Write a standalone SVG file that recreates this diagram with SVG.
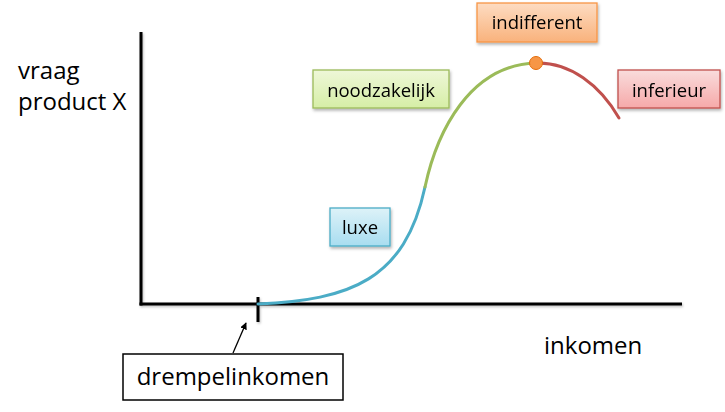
<svg xmlns="http://www.w3.org/2000/svg" width="725" height="412" viewBox="0 0 725 412">
  <style>
    .lbl { font-family: "Open Sans", "Liberation Sans", sans-serif; fill: #000; }
    .big { font-size: 24px; }
    .box { font-size: 18.5px; text-anchor: middle; }
    .axis { stroke: #000; stroke-width: 3; fill: none; stroke-linecap: butt; }
    .curve { fill: none; stroke-width: 3; stroke-linecap: round; }
  </style>
  <defs>
    <filter id="sh" x="-20%" y="-20%" width="140%" height="150%">
      <feDropShadow dx="1" dy="2" stdDeviation="1.5" flood-color="#000" flood-opacity="0.3"/>
    </filter>
    <filter id="ash" x="-5%" y="-5%" width="110%" height="110%">
      <feDropShadow dx="1" dy="1.5" stdDeviation="1" flood-color="#000" flood-opacity="0.25"/>
    </filter>
    <linearGradient id="gOr" x1="0" y1="0" x2="0" y2="1">
      <stop offset="0" stop-color="#FDDCC2"/>
      <stop offset="1" stop-color="#F9B27C"/>
    </linearGradient>
    <linearGradient id="gGr" x1="0" y1="0" x2="0" y2="1">
      <stop offset="0" stop-color="#EEF7D8"/>
      <stop offset="1" stop-color="#D6EEA6"/>
    </linearGradient>
    <linearGradient id="gRd" x1="0" y1="0" x2="0" y2="1">
      <stop offset="0" stop-color="#F9DCDC"/>
      <stop offset="1" stop-color="#F6A9A9"/>
    </linearGradient>
    <linearGradient id="gBl" x1="0" y1="0" x2="0" y2="1">
      <stop offset="0" stop-color="#DDF2F8"/>
      <stop offset="1" stop-color="#A8DDF0"/>
    </linearGradient>
    <marker id="arr" viewBox="0 0 10 10" refX="9" refY="5" markerWidth="7" markerHeight="7" orient="auto" markerUnits="userSpaceOnUse">
      <path d="M0,0 L10,5 L0,10 z" fill="#000"/>
    </marker>
  </defs>

  <g id="axes" filter="url(#ash)">
    <line class="axis" x1="141" y1="32" x2="141" y2="305.5"/>
    <line class="axis" x1="139.5" y1="304" x2="682" y2="304"/>
    <line class="axis" x1="258" y1="297" x2="258" y2="322"/>
  </g>

  <g id="connectors">
    <path class="curve" stroke="#4BACC6" d="M258,304 C350,300 405,280 425,187"/>
    <path class="curve" stroke="#9BBB59" d="M425,187 C437,131 470,65 536,63"/>
    <path class="curve" stroke="#C0504D" d="M536,63 C570,62 600,85 619,118"/>
    <line x1="233" y1="353" x2="246" y2="323" stroke="#000" stroke-width="1.3" marker-end="url(#arr)"/>
  </g>

  <g id="peak">
    <circle cx="536" cy="63" r="6.5" fill="#F79646" stroke="#E46C0A" stroke-width="1"/>
  </g>

  <g id="yLabel">
    <text class="lbl big" x="18" y="79">vraag</text>
    <text class="lbl big" x="18" y="110">product X</text>
  </g>

  <g id="xLabel">
    <text class="lbl big" x="544" y="354">inkomen</text>
  </g>

  <g id="indifferent" filter="url(#sh)">
    <rect x="477" y="3" width="120" height="39" fill="url(#gOr)" stroke="#F79646" stroke-width="1.3"/>
    <text class="lbl box" x="537" y="29">indifferent</text>
  </g>

  <g id="noodzakelijk" filter="url(#sh)">
    <rect x="313" y="70" width="136" height="38" fill="url(#gGr)" stroke="#9BBB59" stroke-width="1.3"/>
    <text class="lbl box" x="381" y="97">noodzakelijk</text>
  </g>

  <g id="inferieur" filter="url(#sh)">
    <rect x="618" y="70" width="102" height="38" fill="url(#gRd)" stroke="#C0504D" stroke-width="1.3"/>
    <text class="lbl box" x="669" y="97">inferieur</text>
  </g>

  <g id="luxe" filter="url(#sh)">
    <rect x="330" y="208" width="60" height="38" fill="url(#gBl)" stroke="#4BACC6" stroke-width="1.3"/>
    <text class="lbl box" x="360" y="234">luxe</text>
  </g>

  <g id="drempelinkomen">
    <rect x="123" y="354" width="220" height="46" fill="#FFFFFF" stroke="#000" stroke-width="1.5"/>
    <text class="lbl big" x="233" y="385" text-anchor="middle">drempelinkomen</text>
  </g>
</svg>
